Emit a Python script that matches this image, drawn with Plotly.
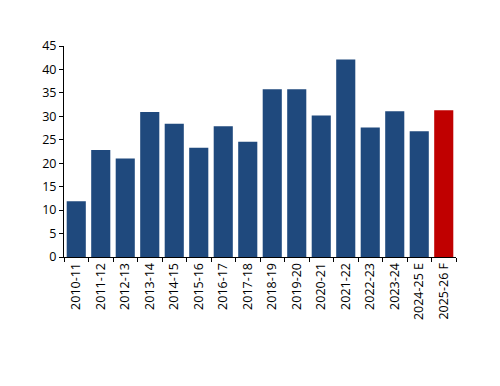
import plotly.graph_objects as go

categories = ["2010-11", "2011-12", "2012-13", "2013-14", "2014-15", "2015-16", "2016-17",
              "2017-18", "2018-19", "2019-20", "2020-21", "2021-22", "2022-23", "2023-24",
              "2024-25 E", "2025-26 F"]
values = [11.9, 22.8, 21.0, 30.9, 28.4, 23.3, 27.9, 24.6, 35.8, 35.8, 30.2, 42.1, 27.6, 31.1, 26.8, 31.3]
colors = ["#1F497D"] * 15 + ["#C00000"]

fig = go.Figure(go.Bar(x=categories, y=values, marker=dict(color=colors, line=dict(width=0))))

fig.update_layout(
    width=500, height=386,
    margin=dict(l=56, r=52, t=38, b=137),
    plot_bgcolor="white", paper_bgcolor="white",
    bargap=0.22, showlegend=False,
    font=dict(family="Open Sans", size=12.5, color="black"),
)
fig.update_yaxes(range=[0, 45], dtick=5, showgrid=False, showline=True, linecolor="black",
                 linewidth=1, ticks="outside", ticklen=4, tickcolor="black", zeroline=False,
                 automargin=False)
fig.update_xaxes(type="category", showgrid=False, showline=True, linecolor="black", linewidth=1,
                 ticks="outside", ticklen=4, tickcolor="black", tickson="boundaries",
                 tickangle=-90, automargin=False)

fig.write_html("out.html")
